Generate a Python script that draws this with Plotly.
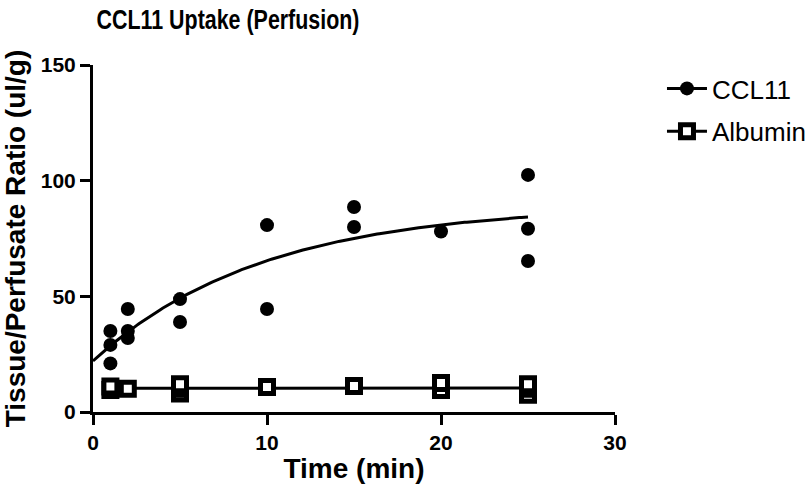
import numpy as np
import plotly.graph_objects as go

# CCL11 data (time in min, tissue/perfusate ratio ul/g)
ccl11_time = [1, 1, 1, 2, 2, 2, 5, 5, 10, 10, 15, 15, 20, 25, 25, 25]
ccl11_vals = [35, 29, 21, 44.5, 35, 32, 48.8, 38.9, 80.8, 44.5, 88.6, 80, 78, 102.5, 79.2, 65.3]

# Albumin data
alb_time = [1, 1, 2, 5, 5, 5, 10, 15, 20, 20, 25, 25, 25]
alb_vals = [9.5, 11, 10, 8, 10, 12, 10.8, 11.2, 9.5, 12.5, 7.5, 10, 12]

x_ticks = [0, 10, 20, 30]
y_ticks = [0, 50, 100, 150]

# One-phase association fit for CCL11
t = np.array(ccl11_time, float)
y = np.array(ccl11_vals, float)
best = None
for K in np.linspace(0.01, 1.0, 2000):
    A = np.column_stack([np.exp(-K * t), 1 - np.exp(-K * t)])
    coef, *_ = np.linalg.lstsq(A, y, rcond=None)
    sse = np.sum((A @ coef - y) ** 2)
    if best is None or sse < best[0]:
        best = (sse, K, coef)
_, K, (Y0, P) = best
xf = np.linspace(0, 25, 200)
yf = Y0 * np.exp(-K * xf) + P * (1 - np.exp(-K * xf))

# Linear fit for albumin
ta = np.array(alb_time, float)
ya = np.array(alb_vals, float)
m, b = np.polyfit(ta, ya, 1)
xa = np.linspace(1, 25, 50)
ya_fit = m * xa + b

circle_marker = dict(symbol="circle", size=14, color="black")
square_marker = dict(symbol="square", size=13, color="white", line=dict(color="black", width=5))

fig = go.Figure()
fig.add_trace(go.Scatter(x=xf, y=yf, mode="lines", line=dict(color="black", width=3),
                         showlegend=False, hoverinfo="skip"))
fig.add_trace(go.Scatter(x=xa, y=ya_fit, mode="lines", line=dict(color="black", width=3),
                         showlegend=False, hoverinfo="skip"))
fig.add_trace(go.Scatter(x=ccl11_time, y=ccl11_vals, mode="markers", name="CCL11",
                         marker=circle_marker, showlegend=False))
fig.add_trace(go.Scatter(x=alb_time, y=alb_vals, mode="markers", name="Albumin",
                         marker=square_marker, showlegend=False))
# Legend entries (line + marker)
fig.add_trace(go.Scatter(x=[None], y=[None], mode="lines+markers", name="CCL11",
                         legendgroup="a", line=dict(color="black", width=3),
                         marker=circle_marker))
fig.add_trace(go.Scatter(x=[None], y=[None], mode="lines+markers", name="Albumin",
                         legendgroup="b", line=dict(color="black", width=3),
                         marker=square_marker))

fig.update_layout(
    width=809, height=494,
    margin=dict(l=93, r=194, t=65, b=82, autoexpand=False),
    paper_bgcolor="white", plot_bgcolor="white",
    font=dict(family="Liberation Sans, Arial", color="black"),
    title=dict(text="<b>CCL11 Uptake (Perfusion)</b>", x=228 / 809, xanchor="center",
               y=1 - 20 / 494, yanchor="middle",
               font=dict(family="Liberation Sans, Arial", size=27, color="black")),
    legend=dict(x=1.09, y=1.0, xanchor="left", yanchor="top",
                font=dict(size=26, color="black"), bgcolor="rgba(0,0,0,0)",
                itemwidth=40, traceorder="grouped", tracegroupgap=6),
    showlegend=True,
)
fig.update_xaxes(range=[0, 30], tickvals=x_ticks, ticktext=[f"<b>{v}</b>" for v in x_ticks],
                 automargin=False,
                 showline=True, linecolor="black", linewidth=3, mirror=False,
                 ticks="outside", ticklen=10, tickwidth=3, tickcolor="black",
                 showgrid=False, zeroline=False,
                 tickfont=dict(size=21, family="Liberation Sans, Arial", color="black"),
                 title=dict(text="<b>Time (min)</b>", font=dict(size=28, color="black"), standoff=6))
fig.update_yaxes(range=[0, 150], tickvals=y_ticks, ticktext=[f"<b>{v}</b>" for v in y_ticks],
                 automargin=False,
                 showline=True, linecolor="black", linewidth=3, mirror=False,
                 ticks="outside", ticklen=10, tickwidth=3, tickcolor="black",
                 showgrid=False, zeroline=False,
                 tickfont=dict(size=21, family="Liberation Sans, Arial", color="black"),
                 title=dict(text="<b>Tissue/Perfusate Ratio (ul/g)</b>", font=dict(size=28, color="black"), standoff=8))

post = """
document.body.style.margin='0';
try {
  var t = document.querySelector('.gtitle');
  if (t) { t.setAttribute('textLength', '263'); t.setAttribute('lengthAdjust', 'spacingAndGlyphs'); }
} catch (e) {}
"""
fig.write_html("out.html", post_script=post, config={"displayModeBar": False})
